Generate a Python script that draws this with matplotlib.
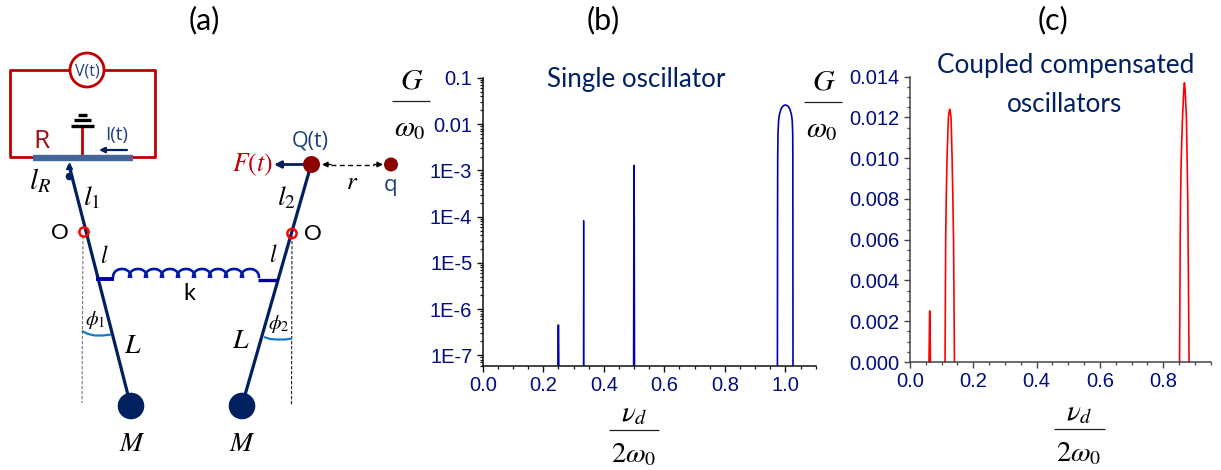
import numpy as np
import matplotlib
matplotlib.use("Agg")
import matplotlib.pyplot as plt
from matplotlib.patches import Circle
from matplotlib.ticker import FixedLocator, FixedFormatter, LogLocator, MultipleLocator, NullFormatter

plt.rcParams['mathtext.fontset'] = 'stix'

# panel (b): single oscillator
b_x_spike_quarter = [0.2485, 0.2495, 0.2505, 0.2515]
b_y_spike_quarter = [4e-8, 4.5e-7, 4.5e-7, 4e-8]
b_x_spike_third = [0.3328, 0.3334, 0.3340]
b_y_spike_third = [4e-8, 8.2e-5, 4e-8]
b_x_spike_half = [0.4985, 0.4998, 0.5002, 0.5015]
b_y_spike_half = [4e-8, 1.28e-3, 1.28e-3, 4e-8]
b_x_main = [0.9735, 0.9740, 0.9745, 0.9755, 0.9775, 0.980, 0.985, 0.990, 0.995, 1.000,
            1.005, 1.010, 1.015, 1.020, 1.0225, 1.0240, 1.0245, 1.0250]
b_y_main = [4e-8, 1e-4, 2e-3, 0.0065, 0.012, 0.016, 0.021, 0.0240, 0.0255, 0.026,
            0.0255, 0.0240, 0.021, 0.016, 0.012, 0.0065, 2e-3, 4e-8]
b_yticks = [1e-7, 1e-6, 1e-5, 1e-4, 1e-3, 0.01, 0.1]
b_ylabels = ['1E-7', '1E-6', '1E-5', '1E-4', '1E-3', '0.01', '0.1']

# panel (c): coupled compensated oscillators
c_x_p1 = [0.0600, 0.0620, 0.0630, 0.0645]
c_y_p1 = [0.0, 0.0025, 0.0025, 0.0]
c_x_p2 = [0.1107, 0.1127, 0.1145, 0.1170, 0.1213, 0.1240, 0.1255, 0.1270, 0.1297, 0.1330, 0.1355, 0.1375, 0.1405]
c_y_p2 = [0.0, 0.0060, 0.0080, 0.0100, 0.0120, 0.0123, 0.0124, 0.0123, 0.0120, 0.0100, 0.0080, 0.0060, 0.0]
c_x_p3 = [0.8516, 0.8537, 0.8548, 0.8569, 0.8610, 0.8650, 0.8670, 0.8690, 0.8733, 0.8754, 0.8775, 0.8786, 0.8817]
c_y_p3 = [0.0, 0.0060, 0.0080, 0.0100, 0.0120, 0.0134, 0.0137, 0.0134, 0.0120, 0.0100, 0.0080, 0.0060, 0.0]
c_yticks = [0.000, 0.002, 0.004, 0.006, 0.008, 0.010, 0.012, 0.014]

W, H = 1221, 470
NAVY = '#000C80'
LINE_B = '#0000B4'
TITLE = '#002060'
RED = '#C00000'
MASS = '#002060'

fig = plt.figure(figsize=(W / 100, H / 100), dpi=100, facecolor='white')


def axes_px(l, t, r, b):
    return fig.add_axes([l / W, 1 - b / H, (r - l) / W, (b - t) / H])


def style(ax, spine):
    for s in ('top', 'right'):
        ax.spines[s].set_visible(False)
    for s in ('left', 'bottom'):
        ax.spines[s].set_linewidth(1.1)
        ax.spines[s].set_color(spine)
    ax.tick_params(which='major', length=4.5, width=1.0, color=spine, labelsize=14.5,
                   labelcolor=NAVY, pad=3)
    ax.tick_params(which='minor', length=2.4, width=0.9, color=spine)
    for lab in ax.get_xticklabels() + ax.get_yticklabels():
        lab.set_fontfamily('Liberation Sans')


# overlay in pixel space
ov = fig.add_axes([0, 0, 1, 1], zorder=5)
ov.set_xlim(0, W)
ov.set_ylim(H, 0)
ov.axis('off')
ov.patch.set_alpha(0)

# panel b
axb = axes_px(482.7, 78, 815.7, 365.7)
axb.set_yscale('log')
axb.plot(b_x_spike_quarter, b_y_spike_quarter, color=LINE_B, lw=1.2)
axb.plot(b_x_spike_third, b_y_spike_third, color=LINE_B, lw=1.0)
axb.plot(b_x_spike_half, b_y_spike_half, color=LINE_B, lw=1.2)
axb.plot(b_x_main, b_y_main, color=LINE_B, lw=1.2)
axb.set_xlim(0, 1.1)
axb.set_ylim(5.96e-8, 0.1)
axb.yaxis.set_major_locator(FixedLocator(b_yticks))
axb.yaxis.set_major_formatter(FixedFormatter(b_ylabels))
axb.yaxis.set_minor_locator(LogLocator(base=10, subs=range(2, 10), numticks=20))
axb.yaxis.set_minor_formatter(NullFormatter())
axb.xaxis.set_major_locator(MultipleLocator(0.2))
axb.xaxis.set_minor_locator(MultipleLocator(0.05))
axb.xaxis.set_major_formatter('{x:.1f}')
style(axb, '#111111')

# panel c
axc = axes_px(910, 76.7, 1210.7, 362)
for xs, ys in ((c_x_p1, c_y_p1), (c_x_p2, c_y_p2), (c_x_p3, c_y_p3)):
    axc.plot(xs, ys, color='#FF0000', lw=1.2, clip_on=False)
axc.set_xlim(0, 0.95)
axc.set_ylim(0, 0.014)
axc.yaxis.set_major_locator(FixedLocator(c_yticks))
axc.yaxis.set_major_formatter('{x:.3f}')
axc.yaxis.set_minor_locator(MultipleLocator(0.0005))
axc.xaxis.set_major_locator(MultipleLocator(0.2))
axc.xaxis.set_minor_locator(MultipleLocator(0.05))
axc.xaxis.set_major_formatter('{x:.1f}')
style(axc, '#444444')


def txt(x, y, s, size, color='black', family='Lato', **kw):
    ov.text(x, y, s, fontsize=size, color=color, family=family, ha='center', va='center', **kw)


def line(xs, ys, color, lw, **kw):
    ov.plot(xs, ys, color=color, lw=lw, solid_capstyle=kw.pop('cap', 'butt'), **kw)


def arrow(x0, y0, x1, y1, color, lw=1.5, style='-|>', ms=9, ls='-'):
    ov.annotate('', xy=(x1, y1), xytext=(x0, y0),
                arrowprops=dict(arrowstyle=style, color=color, lw=lw, mutation_scale=ms,
                                shrinkA=0, shrinkB=0, linestyle=ls))


def frac_g(cx, ybar, x0, x1):
    line([x0, x1], [ybar, ybar], '#222222', 0.9)
    txt(cx, ybar - 21, r'$G$', 21.5, family='DejaVu Sans')
    txt(cx - 2, ybar + 27, r'$\omega_0$', 21, family='DejaVu Sans')


def frac_v(cx, ybar, x0, x1):
    line([x0, x1], [ybar, ybar], '#222222', 0.9)
    txt(cx, ybar - 17, r'$\nu_d$', 21, family='DejaVu Sans')
    txt(cx, ybar + 24, r'$2\omega_0$', 20.5, family='DejaVu Sans')


# panel titles
txt(204, 20, '(a)', 22)
txt(603, 20, '(b)', 22)
txt(1053, 20, '(c)', 22)
txt(636, 80, 'Single oscillator', 18.7, TITLE)
txt(1066, 66, 'Coupled compensated', 18.8, TITLE)
txt(1064, 104, 'oscillators', 18.8, TITLE)

# axis fractions
frac_g(412, 101, 392, 430)
frac_g(824, 102, 804, 842)
frac_v(634, 430, 609, 659)
frac_v(1079, 429, 1054, 1105)

# schematic (a): circuit
line([33, 10, 10, 155, 155, 133], [157, 157, 70, 70, 157, 157], RED, 2.0, cap='projecting')
ov.add_patch(Circle((87, 70), 17, fc='white', ec=RED, lw=2.0, zorder=3))
txt(87, 71, 'V(t)', 11.5, '#1F3F80', 'Open Sans', zorder=4)
line([82, 82], [156, 127], RED, 2.0)
line([71, 94], [125.5, 125.5], 'black', 2.4)
line([74, 91], [120, 120], 'black', 2.4)
line([78, 87], [115, 115], 'black', 2.4)
line([33, 133], [157.5, 157.5], '#44679A', 4.6, zorder=3)
txt(41, 141, 'R', 19, '#A01010', 'Open Sans')
txt(117, 135, 'I(t)', 13.5, '#1F3F80', 'Open Sans')
arrow(127, 150, 99, 150, MASS, lw=1.6, ms=8)

# pendulums
line([69, 128], [165, 395], MASS, 2.3)
line([311, 245], [165, 395], MASS, 2.3)
ov.plot([69], [176], 'o', color=MASS, ms=4.5)
ov.plot([69], [166], marker='^', color=MASS, ms=4.5)
ov.add_patch(Circle((131, 406), 13.3, fc=MASS, ec='none', zorder=3))
ov.add_patch(Circle((242, 406), 13.3, fc=MASS, ec='none', zorder=3))
line([83, 82], [236, 403], '#777777', 0.8, ls=(0, (3, 1.5)))
line([292, 291.5], [236, 405], '#222222', 0.8, ls=(0, (3, 1.5)))
for cx, cy in ((84, 232), (292, 233.5)):
    ov.add_patch(Circle((cx, cy), 4.6, fc='none', ec='#FF0000', lw=1.8, zorder=4))

# charge side
ov.add_patch(Circle((311.5, 164.5), 8.5, fc='#8B0000', ec='none', zorder=4))
ov.add_patch(Circle((391, 164.5), 7, fc='#8B0000', ec='none', zorder=4))
arrow(304, 164.5, 274, 164.5, MASS, lw=2.0, ms=10)
arrow(331, 164.5, 322, 164.5, 'black', lw=1.0, ms=8)
arrow(374, 164.5, 383, 164.5, 'black', lw=1.0, ms=8)
line([331, 374], [164.5, 164.5], 'black', 1.0, ls=(0, (3.5, 2.5)), zorder=2.2)
txt(310, 141, 'Q(t)', 15.5, '#1F3F80', 'Open Sans')
txt(391, 186, 'q', 16, '#1F3F80', 'Open Sans')
txt(252, 165, r'$F(t)$', 18.5, '#C00000', 'DejaVu Sans')
txt(352, 182, r'$r$', 18, 'black', 'DejaVu Sans')

# spring
line([96, 114], [279, 279], '#00009A', 2.8)
line([258, 278], [279.5, 279.5], '#00009A', 2.4)
n_coils = 9
coil_w = (258 - 114) / n_coils
for i in range(n_coils):
    t = np.linspace(np.pi, 0, 30)
    x0 = 114 + i * coil_w
    sx = x0 + coil_w / 2 + (coil_w / 2 + 1) * np.cos(t)
    sy = 278 - 9 * np.sin(t) ** 0.8
    line(sx, sy, '#0018A8', 1.9)
txt(189, 293, 'k', 17)

# angle arcs
line([82, 88, 95, 103, 111], [331, 334, 335.5, 335.5, 334.5], '#1878C8', 1.6)
line([264, 270, 277, 285, 292], [337, 339, 339.5, 339.5, 338.5], '#1878C8', 1.6)

# math labels
for x, y, s, size in (
    (40, 181, r'$l_R$', 21), (92, 197, r'$l_1$', 20), (286, 197, r'$l_2$', 20),
    (104, 256, r'$l$', 17), (273, 255, r'$l$', 17),
    (95, 320, r'$\phi_1$', 14.5), (279, 324, r'$\phi_2$', 14.5),
    (133, 345, r'$L$', 20), (241, 340, r'$L$', 20),
    (132, 443, r'$M$', 20), (242, 443, r'$M$', 20),
):
    txt(x, y, s, size, 'black', 'DejaVu Sans')
txt(60, 233, 'O', 16, 'black')
txt(313, 234, 'O', 16, 'black')

fig.savefig('out.png', dpi=100, facecolor='white')
